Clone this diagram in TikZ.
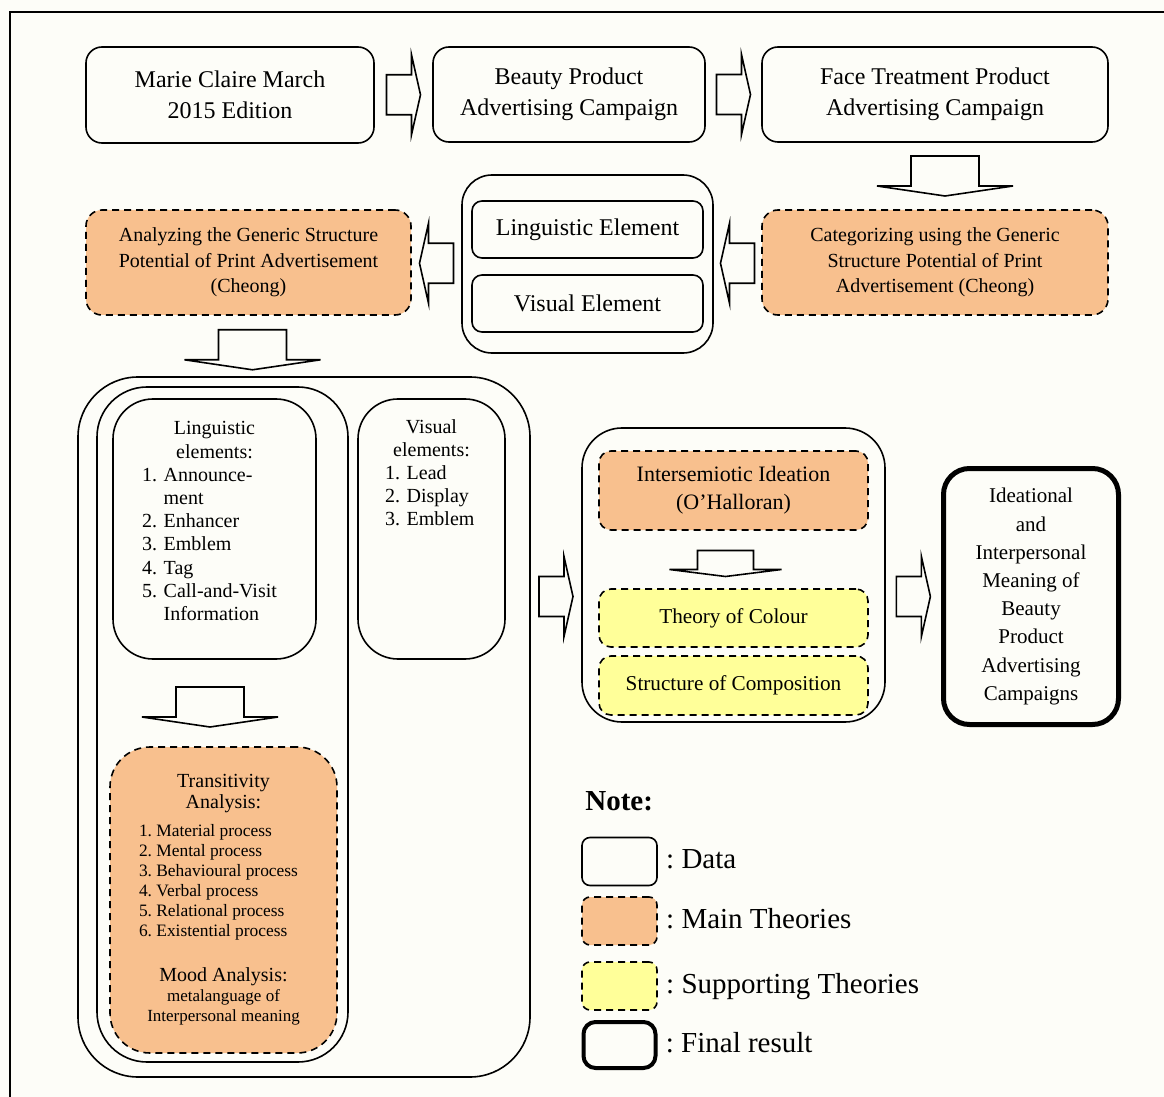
\documentclass[tikz,border=0pt]{standalone}
\usepackage{fontspec}
\setmainfont{Liberation Serif}
\usetikzlibrary{positioning,calc}
\frenchspacing

\definecolor{paper}{RGB}{253,253,248}
\definecolor{mainth}{RGB}{248,192,142}
\definecolor{suppth}{RGB}{255,255,153}

% block arrows (right, left, down)
\newcommand{\rblock}[1]{\draw[blockarrow] (#1) ++(-17,-20) -- ++(25,0) -- ++(0,-20) -- ++(9,40) -- ++(-9,40) -- ++(0,-20) -- ++(-25,0) -- cycle;}
\newcommand{\lblock}[1]{\draw[blockarrow] (#1) ++(17,-20) -- ++(-25,0) -- ++(0,-20) -- ++(-9,40) -- ++(9,40) -- ++(0,-20) -- ++(25,0) -- cycle;}
\newcommand{\dblock}[5]{\draw[blockarrow] (#1) ++({-#2},{-(#4+#5)/2}) -- ++({2*#2},0) -- ++(0,#4) -- ++({#3-#2},0) -- ++({-#3},#5) -- ++({-#3},{-#5}) -- ++({#3-#2},0) -- cycle;}

\tikzset{
  databox/.style={draw, line width=0.8pt, rounded corners=8pt, align=center, inner sep=0pt, fill=paper},
  mainbox/.style={databox, dash pattern=on 3.5pt off 2.5pt, fill=mainth},
  suppbox/.style={mainbox, fill=suppth},
  finalbox/.style={databox, line width=2.5pt, rounded corners=13pt},
  blockarrow/.style={draw, line width=0.8pt, fill=paper},
  txt/.style={inner sep=0pt},
  legtext/.style={inner sep=0pt, font=\fontsize{14.5}{17}\selectfont, text height=10pt, text depth=3pt},
}

\begin{document}
\begin{tikzpicture}[x=0.5pt, y=-0.5pt]
\fill[paper] (0,0) rectangle (1164,1097);
\useasboundingbox (0,0) rectangle (1164,1097);
\draw[line width=1pt] (10,1097) -- (10,12) -- (1164,12);

% top row
\node[databox, minimum width=144pt, minimum height=48pt, font=\fontsize{12}{15.5}\selectfont] (marie) at (230,95) {Marie Claire March\\2015 Edition};
\node[databox, minimum width=136pt, minimum height=47.5pt, font=\fontsize{12}{15.5}\selectfont] (beauty) at (569,94.5) {Beauty Product\\Advertising Campaign};
\node[databox, minimum width=173pt, minimum height=47.5pt, font=\fontsize{12}{15.5}\selectfont] (face) at (935,94.5) {Face Treatment Product\\Advertising Campaign};

% second row
\node[mainbox, minimum width=173pt, minimum height=52.5pt, font=\fontsize{10}{12.8}\selectfont] (categ) at (935,262.5) {Categorizing using the Generic\\Structure Potential of Print\\Advertisement (Cheong)};
\node[databox, rounded corners=15pt, minimum width=125.5pt, minimum height=89pt] (elems) at (587.5,264) {};
\node[databox, rounded corners=5pt, minimum width=115.5pt, minimum height=28.5pt, font=\fontsize{12}{14}\selectfont] (lingel) at (587.5,229.5) {Linguistic Element};
\node[databox, rounded corners=5pt, minimum width=115.5pt, minimum height=28.5pt, font=\fontsize{12}{14}\selectfont] (visel) at (587.5,303.5) {Visual Element};
\node[mainbox, minimum width=162.5pt, minimum height=52.5pt, font=\fontsize{10}{12.8}\selectfont] (analyz) at (248.5,262.5) {Analyzing the Generic Structure\\Potential of Print Advertisement\\(Cheong)};

% analysis block
\node[databox, rounded corners=30pt, minimum width=226pt, minimum height=350pt] (outer) at (304,727) {};
\node[databox, rounded corners=25pt, minimum width=125.5pt, minimum height=337.5pt] (inner) at (222.5,724.5) {};
\node[databox, rounded corners=20pt, minimum width=101.5pt, minimum height=130pt] (lingbox) at (214.5,529) {};
\node[txt, text width=101.5pt, font=\fontsize{10}{11.6}\selectfont, below=11.5pt of lingbox.north] (lingtxt) {\centering Linguistic\\elements:\par
  \raggedright\leftskip=14.5pt 1. Announce-\\\phantom{1. }ment\\2. Enhancer\\3. Emblem\\4. Tag\\5. Call-and-Visit\\\phantom{5. }Information\par};
\node[databox, rounded corners=20pt, minimum width=73.5pt, minimum height=130pt] (visbox) at (431.5,529) {};
\node[txt, text width=73.5pt, font=\fontsize{10}{11.5}\selectfont, below=10.5pt of visbox.north] (vistxt) {\centering Visual\\elements:\par
  \raggedright\leftskip=13.5pt 1. Lead\\2. Display\\3. Emblem\par};
\node[mainbox, align=none, rounded corners=20pt, minimum width=113.5pt, minimum height=153pt, text width=113.5pt] (trans) at (223.5,900) {%
  {\centering\fontsize{10}{10.5}\selectfont Transitivity\\Analysis:\par}
  \vspace{4pt}
  {\raggedright\leftskip=14.5pt\fontsize{8.7}{10}\selectfont 1. Material process\\2. Mental process\\3. Behavioural process\\4. Verbal process\\5. Relational process\\6. Existential process\par}
  \vspace{12pt}
  {\centering\fontsize{10}{10.5}\selectfont Mood Analysis:\par}
  {\centering\fontsize{8.5}{10}\selectfont metalanguage of\\Interpersonal meaning\par}};

% theories block
\node[databox, rounded corners=20pt, minimum width=151.5pt, minimum height=147pt] (midbox) at (733.5,575) {};
\node[mainbox, rounded corners=6pt, minimum width=134.5pt, minimum height=39.5pt, font=\fontsize{11}{14}\selectfont] (inter) at (733.5,490.5) {Intersemiotic Ideation\\(O’Halloran)};
\node[suppbox, rounded corners=6pt, minimum width=134.5pt, minimum height=29pt, font=\fontsize{10.6}{13}\selectfont] (colour) at (733.5,618) {Theory of Colour};
\node[suppbox, rounded corners=6pt, minimum width=134.5pt, minimum height=29.5pt, font=\fontsize{10.6}{13}\selectfont] (comp) at (733.5,685.5) {Structure of Composition};

% result
\node[finalbox, minimum width=87.5pt, minimum height=128pt, font=\fontsize{10.5}{14.1}\selectfont] (final) at (1031,596.5) {Ideational\\and\\Interpersonal\\Meaning of\\Beauty\\Product\\Advertising\\Campaigns};

% arrows
\rblock{$(marie.east)!0.5!(beauty.west)$}
\rblock{$(beauty.east)!0.5!(face.west)$}
\dblock{$(face.south)!0.5!(categ.north)+(10,0)$}{34}{68}{30}{10}
\lblock{$(categ.west)!0.5!(elems.east)$}
\lblock{$(elems.west)!0.5!(analyz.east)$}
\dblock{$(analyz.south)+(4,34)$}{34}{68}{30}{10}
\dblock{$(lingbox.south)!0.5!(trans.north)+(-9,4)$}{34}{68}{30}{10}
\dblock{$(inter.south)!0.5!(colour.north)+(-8,4)$}{28}{56}{19}{7}
\coordinate (gapA) at ($(outer.east)!0.5!(midbox.west)$);
\coordinate (gapB) at ($(midbox.east)!0.5!(final.west)$);
\rblock{gapA |- final}
\rblock{gapB |- final}

% legend
\node[anchor=west, inner sep=0pt, font=\bfseries\fontsize{14.5}{17}\selectfont] (note) at (585,801) {Note:};
\node[databox, rounded corners=4pt, minimum width=37.5pt, minimum height=24pt] (legdata) at (619.5,861.5) {};
\node[mainbox, rounded corners=4pt, minimum width=37.5pt, minimum height=24pt] (legmain) at (619.5,921) {};
\node[suppbox, rounded corners=4pt, minimum width=37.5pt, minimum height=24pt] (legsupp) at (619.5,986) {};
\node[finalbox, line width=2pt, rounded corners=6pt, minimum width=36pt, minimum height=23pt] (legfinal) at (619.5,1045) {};
\node[legtext, right=4pt of legdata] (tdata) {: Data};
\node[legtext, right=4pt of legmain] (tmain) {: Main Theories};
\node[legtext, right=4pt of legsupp] (tsupp) {: Supporting Theories};
\node[legtext, right=4pt of legfinal] (tfinal) {: Final result};
\end{tikzpicture}
\end{document}
